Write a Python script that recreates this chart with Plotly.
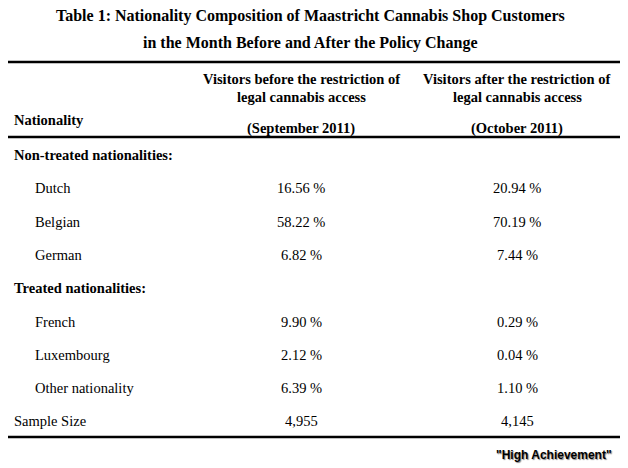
import plotly.graph_objects as go

title = ["Table 1: Nationality Composition of Maastricht Cannabis Shop Customers",
         "in the Month Before and After the Policy Change"]
col_heads = [["Visitors before the restriction of", "legal cannabis access", "(September 2011)"],
             ["Visitors after the restriction of", "legal cannabis access", "(October 2011)"]]
row_labels = ["Non-treated nationalities:", "Dutch", "Belgian", "German",
              "Treated nationalities:", "French", "Luxembourg", "Other nationality", "Sample Size"]
row_kind = ["group", "item", "item", "item", "group", "item", "item", "item", "total"]
before = ["", "16.56 %", "58.22 %", "6.82 %", "", "9.90 %", "2.12 %", "6.39 %", "4,955"]
after = ["", "20.94 %", "70.19 %", "7.44 %", "", "0.29 %", "0.04 %", "1.10 %", "4,145"]

W, H = 628, 468
PAD = 8  # page body margin, so the figure starts 8px into the window
serif = "Liberation Serif, Times New Roman, serif"
fig = go.Figure()

def txt(x, y, s, size=14.5, bold=False, anchor="left", family=serif):
    fig.add_annotation(x=x, y=y, text=f"<b>{s}</b>" if bold else s, showarrow=False,
                       xanchor=anchor, yanchor="middle", xref="x", yref="y",
                       font=dict(family=family, size=size, color="black"))

# title
txt(310, 16, title[0], size=16, bold=True, anchor="center")
txt(310, 43, title[1], size=16, bold=True, anchor="center")

# rules
for y, w in [(62, 2.5), (137, 2.5), (437, 2.5)]:
    fig.add_shape(type="line", x0=PAD, x1=620, y0=y, y1=y, xref="x", yref="y",
                  line=dict(color="black", width=w))

# headers
col_x = [301, 517]
for cx, lines in zip(col_x, col_heads):
    txt(cx, 79, lines[0], bold=True, anchor="center")
    txt(cx, 97, lines[1], bold=True, anchor="center")
    txt(cx, 128, lines[2], bold=True, anchor="center")
txt(12, 120, "Nationality", bold=True)

# body rows
y0, dy = 155, 33.3
for i, (lab, kind, b, a) in enumerate(zip(row_labels, row_kind, before, after)):
    y = y0 + i * dy
    if kind == "group":
        txt(12, y, lab, bold=True)
    elif kind == "item":
        txt(33, y, lab)
    else:
        txt(12, y, lab)
    txt(col_x[0], y, b, anchor="center")
    txt(col_x[1], y, a, anchor="center")

# watermark
fig.add_annotation(x=614, y=455, text="<b>\"High Achievement\"</b>", showarrow=False,
                   xanchor="right", yanchor="middle", xref="x", yref="y",
                   font=dict(family="Liberation Sans, Arial, sans-serif", size=12, color="black",
                             shadow="1px 1px 1px #888"))

fig.update_xaxes(range=[PAD, W], visible=False, fixedrange=True)
fig.update_yaxes(range=[H, PAD], visible=False, fixedrange=True)
fig.update_layout(width=W - PAD, height=H - PAD, margin=dict(l=0, r=0, t=0, b=0),
                  paper_bgcolor="white", plot_bgcolor="white", showlegend=False)
fig.write_html("out.html")
